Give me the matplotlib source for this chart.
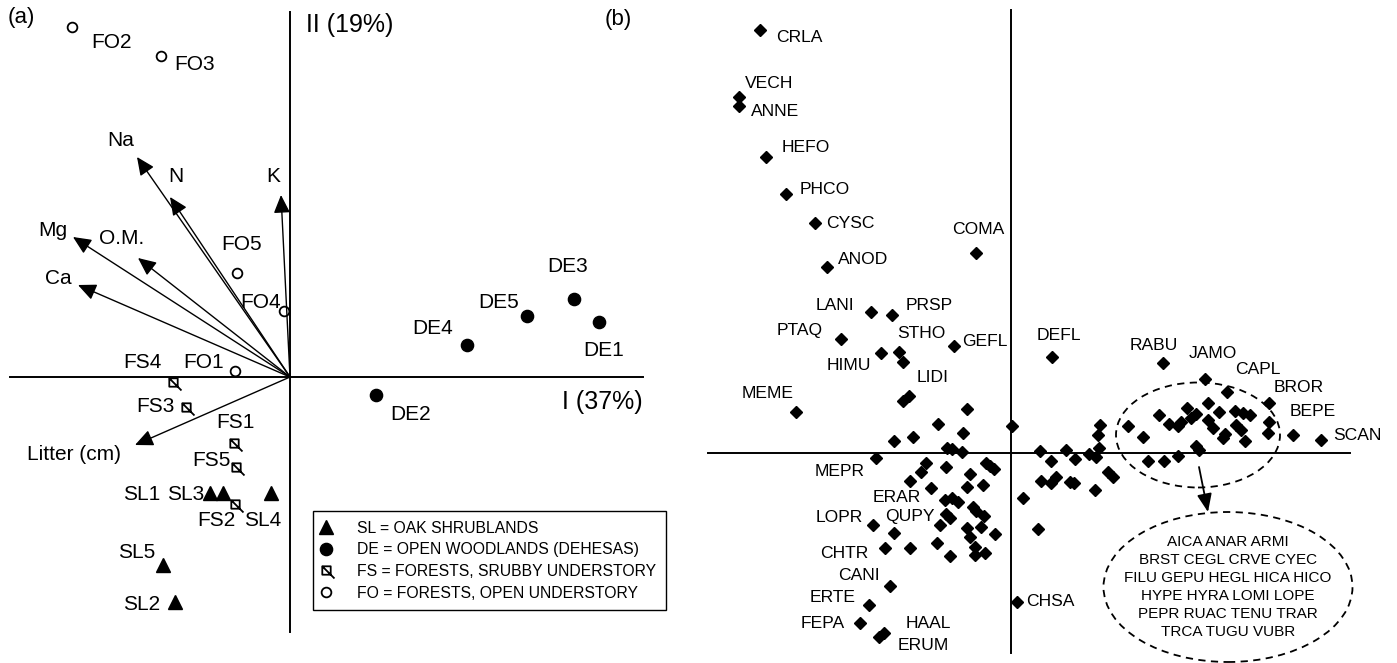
import numpy as np
import matplotlib
matplotlib.use("Agg")
import matplotlib.pyplot as plt
from matplotlib.patches import Ellipse
from matplotlib.path import Path
from matplotlib.lines import Line2D

plt.rcParams['font.family'] = ['Liberation Sans', 'DejaVu Sans']

# ============================================================
#  (a) site scores and soil vectors (PCA, axes I / II)
# ============================================================
sl_names = ["SL1", "SL2", "SL3", "SL4", "SL5"]
sl_x = [-0.80, -1.15, -0.67, -0.19, -1.27]
sl_y = [-1.16, -2.25, -1.16, -1.16, -1.88]

de_names = ["DE1", "DE2", "DE3", "DE4", "DE5"]
de_x = [3.09, 0.86, 2.84, 1.77, 2.37]
de_y = [0.55, -0.18, 0.78, 0.32, 0.61]

fs_names = ["FS1", "FS2", "FS3", "FS4", "FS5"]
fs_x = [-0.56, -0.55, -1.04, -1.17, -0.54]
fs_y = [-0.66, -1.27, -0.30, -0.05, -0.90]

fo_names = ["FO1", "FO2", "FO3", "FO4", "FO5"]
fo_x = [-0.55, -2.18, -1.29, -0.06, -0.53]
fo_y = [0.06, 3.50, 3.21, 0.66, 1.04]

vec_names = ["Na", "N", "K", "Mg", "O.M.", "Ca", "Litter (cm)"]
vec_x = [-1.53, -1.20, -0.09, -2.17, -1.52, -2.12, -1.55]
vec_y = [2.20, 1.80, 1.82, 1.40, 1.19, 0.92, -0.68]

legend_labels = ["SL = OAK SHRUBLANDS",
                 "DE = OPEN WOODLANDS (DEHESAS)",
                 "FS = FORESTS, SRUBBY UNDERSTORY",
                 "FO = FORESTS, OPEN UNDERSTORY"]

# ============================================================
#  (b) species scores
# ============================================================
sp_names = ["CRLA", "VECH", "ANNE", "HEFO", "PHCO", "CYSC", "COMA", "ANOD",
            "LANI", "PRSP", "PTAQ", "STHO", "GEFL", "HIMU", "LIDI", "MEME",
            "DEFL", "RABU", "JAMO", "CAPL", "BROR", "BEPE", "SCAN", "MEPR",
            "ERAR", "QUPY", "LOPR", "CHTR", "CANI", "ERTE", "FEPA", "HAAL",
            "ERUM", "CHSA"]
sp_x = [-2.51, -2.72, -2.72, -2.45, -2.25, -1.96, -0.35, -1.84,
        -1.40, -1.19, -1.70, -1.12, -0.57, -1.30, -1.02, -2.15,
        0.41, 1.52, 1.94, 2.16, 2.58, 2.82, 3.10, -1.35,
        -0.80, -0.65, -1.38, -1.26, -1.21, -1.42, -1.51, -1.27,
        -1.32, 0.06]
sp_y = [4.23, 3.56, 3.47, 2.96, 2.59, 2.30, 2.00, 1.86,
        1.41, 1.38, 1.14, 1.01, 1.07, 1.00, 0.57, 0.41,
        0.96, 0.90, 0.74, 0.61, 0.50, 0.18, 0.13, -0.05,
        -0.35, -0.61, -0.72, -0.95, -1.33, -1.52, -1.70, -1.80,
        -1.84, -1.49]

# unlabelled species
other_x = [-1.08, -1.08, -0.44, -0.73, -0.48, -1.17, -0.98, -0.64, -0.59,
           -0.49, -0.85, -0.90, -0.65, -0.25, -0.21, -0.17, -0.41, -1.01,
           -0.44, -0.28, -0.66, -0.59, -0.53, -0.38, -0.35, -0.61, -0.27,
           -0.71, -0.44, -0.30, -1.17, -0.16, -0.41, -1.01, -0.74, -0.36,
           -0.61, -0.36, -0.26,
           0.01, 0.12, 0.27, 0.29, 0.40, 0.55, 0.64, 0.78, 0.85, 0.88,
           0.87, 0.89, 0.30, 0.40, 0.45, 0.59, 0.63, 0.84, 0.97, 1.02,
           1.17, 1.32, 1.48, 1.58, 1.67, 1.70, 1.76, 1.80, 1.85, 1.97,
           1.97, 2.02, 2.08, 2.12, 2.14, 2.24, 2.32, 2.39, 2.25, 2.30,
           2.34, 2.58, 2.57, 1.85, 1.88, 1.67, 1.37, 1.53]
other_y = [0.91, 0.52, 0.44, 0.29, 0.20, 0.12, 0.16, 0.05, 0.04,
           0.01, -0.10, -0.19, -0.14, -0.10, -0.13, -0.16, -0.21, -0.28,
           -0.34, -0.32, -0.47, -0.45, -0.49, -0.54, -0.58, -0.65, -0.63,
           -0.72, -0.75, -0.74, -0.80, -0.81, -0.84, -0.95, -0.90, -0.94,
           -1.03, -1.02, -1.00,
           0.27, -0.45, -0.76, 0.02, -0.08, 0.03, -0.06, -0.01, -0.04, 0.05,
           0.18, 0.28, -0.28, -0.30, -0.24, -0.29, -0.30, -0.37, -0.19, -0.24,
           0.27, 0.16, 0.38, 0.29, 0.27, 0.31, 0.45, 0.35, 0.39, 0.50,
           0.33, 0.25, 0.41, 0.15, 0.19, 0.42, 0.40, 0.38, 0.28, 0.23,
           0.12, 0.31, 0.20, 0.07, 0.03, -0.03, -0.08, -0.08]

cluster_species = ["AICA ANAR ARMI",
                   "BRST CEGL CRVE CYEC",
                   "FILU GEPU HEGL HICA HICO",
                   "HYPE HYRA LOMI LOPE",
                   "PEPR RUAC TENU TRAR",
                   "TRCA TUGU VUBR"]

# label offsets in pixels (right, down) from the point
offs_a = {"FO1": (-31, -9), "FO2": (40, 16), "FO3": (34, 9), "FO4": (-23, -9),
          "FO5": (5, -28), "FS1": (1, -20), "FS2": (-19, 16), "FS3": (-31, -1),
          "FS4": (-31, -20), "FS5": (-25, -7), "SL1": (-68, 2), "SL2": (-33, 2),
          "SL3": (-37, 2), "SL4": (-8, 27), "SL5": (-26, -13), "DE1": (5, 29),
          "DE2": (35, 20), "DE3": (-6, -33), "DE4": (-34, -17), "DE5": (-28, -14),
          "Na": (-16, -17), "N": (6, -20), "K": (-8, -18), "Mg": (-20, -7),
          "O.M.": (-16, -20), "Ca": (-20, -7), "Litter (cm)": (-61, 10)}

offs_b = {"CRLA": (39, 7), "VECH": (30, -14), "ANNE": (36, 5), "HEFO": (40, -10),
          "PHCO": (39, -4), "CYSC": (35, 0), "COMA": (2, -24), "ANOD": (36, -8),
          "LANI": (-36, -6), "PRSP": (37, -9), "PTAQ": (-41, -8), "STHO": (22, -18),
          "GEFL": (31, -4), "HIMU": (-32, 12), "LIDI": (24, -19), "MEME": (-28, -19),
          "DEFL": (7, -22), "RABU": (-9, -17), "JAMO": (8, -26), "CAPL": (31, -23),
          "BROR": (30, -15), "BEPE": (20, -23), "SCAN": (36, -5), "MEPR": (-36, 13),
          "ERAR": (-34, 10), "QUPY": (-36, 3), "LOPR": (-34, -8), "CHTR": (-41, 5),
          "CANI": (-31, -10), "ERTE": (-36, -7), "FEPA": (-37, 0), "HAAL": (44, -10),
          "ERUM": (44, 9), "CHSA": (33, -1)}

# crossed-square marker for FS sites
fs_marker = Path([(-0.5, -0.5), (0.5, -0.5), (0.5, 0.5), (-0.5, 0.5), (-0.5, -0.5),
                  (-0.5, 0.5), (0.95, -0.95)],
                 [Path.MOVETO, Path.LINETO, Path.LINETO, Path.LINETO, Path.CLOSEPOLY,
                  Path.MOVETO, Path.LINETO])

W, H = 1397, 663
fig = plt.figure(figsize=(W / 100, H / 100), dpi=100)
axA = fig.add_axes([0, 0, 680 / W, 1])
axB = fig.add_axes([680 / W, 0, 717 / W, 1])
axA.set_xlim(-2.90, 3.90); axA.set_ylim(-2.86, 3.77)
axB.set_xlim(-3.31, 3.86); axB.set_ylim(-2.10, 4.53)
for ax in (axA, axB):
    ax.set_axis_off()


def put_labels(ax, names, xs, ys, offs, size):
    for n, x, y in zip(names, xs, ys):
        dx, dy = offs[n]
        ax.text(x + dx / 100, y - dy / 100, n, fontsize=size,
                ha="center", va="center", color="k")


# ---------------- panel (a) ----------------
axA.plot([-2.80, 3.53], [0, 0], color="k", lw=1.4)
axA.plot([0, 0], [-2.55, 3.65], color="k", lw=1.4)

for x, y in zip(vec_x, vec_y):
    axA.annotate("", xy=(x, y), xytext=(0, 0),
                 arrowprops=dict(arrowstyle="-|>,head_length=1.1,head_width=0.5",
                                 mutation_scale=10, lw=1.0, color="k",
                                 shrinkA=0, shrinkB=0))
put_labels(axA, vec_names, vec_x, vec_y, offs_a, 15)

axA.plot(sl_x, sl_y, ls="none", marker="^", ms=10, color="k", clip_on=False)
axA.plot(de_x, de_y, ls="none", marker="o", ms=8.8, color="k", clip_on=False)
axA.plot(fs_x, fs_y, ls="none", marker=fs_marker, ms=11.5, mfc="none", mec="k",
         mew=1.3, clip_on=False)
axA.plot(fo_x, fo_y, ls="none", marker="o", ms=7, mfc="white", mec="k",
         mew=1.3, clip_on=False)
for names, xs, ys in [(sl_names, sl_x, sl_y), (de_names, de_x, de_y),
                      (fs_names, fs_x, fs_y), (fo_names, fo_x, fo_y)]:
    put_labels(axA, names, xs, ys, offs_a, 15)

axA.text(0.16, 3.52, "II (19%)", fontsize=18, ha="left", va="center")
axA.text(3.53, -0.25, "I (37%)", fontsize=18, ha="right", va="center")
axA.text(-2.82, 3.60, "(a)", fontsize=16, ha="left", va="center")
fig.text(618 / W, 1 - 20 / H, "(b)", fontsize=16, ha="center", va="center")

handles = [Line2D([], [], ls="none", marker="^", ms=10, color="k"),
           Line2D([], [], ls="none", marker="o", ms=8.8, color="k"),
           Line2D([], [], ls="none", marker=fs_marker, ms=11.5, mfc="none",
                  mec="k", mew=1.3),
           Line2D([], [], ls="none", marker="o", ms=7, mfc="white", mec="k",
                  mew=1.3)]
leg = axA.legend(handles, legend_labels, loc="upper left",
                 bbox_to_anchor=(313 / 680, 1 - 511 / H), borderaxespad=0,
                 frameon=True, fancybox=False, edgecolor="k", framealpha=1,
                 fontsize=11.3, handlelength=0.4, handletextpad=1.8,
                 borderpad=0.62, labelspacing=0.42, numpoints=1)
leg.get_frame().set_linewidth(1.0)

# ---------------- panel (b) ----------------
axB.plot([-3.03, 3.39], [0, 0], color="k", lw=1.4)
axB.plot([0, 0], [-2.00, 4.43], color="k", lw=1.4)

axB.plot(other_x, other_y, ls="none", marker="D", ms=6.4, color="k", clip_on=False)
axB.plot(sp_x, sp_y, ls="none", marker="D", ms=6.4, color="k", clip_on=False)
put_labels(axB, sp_names, sp_x, sp_y, offs_b, 12.6)

axB.add_patch(Ellipse((1.87, 0.18), 1.64, 1.05, fill=False, ec="k", lw=1.3,
                      ls=(0, (4, 3))))
axB.add_patch(Ellipse((2.17, -1.34), 2.49, 1.50, fill=False, ec="k", lw=1.3,
                      ls=(0, (4, 3))))
axB.annotate("", xy=(1.97, -0.59), xytext=(1.88, -0.14),
             arrowprops=dict(arrowstyle="-|>,head_length=1.1,head_width=0.45",
                             mutation_scale=10, lw=1.3, color="k",
                             shrinkA=0, shrinkB=0))
axB.text(2.17, -1.34, "\n".join(cluster_species), fontsize=11,
         ha="center", va="center", linespacing=1.38, multialignment="center")

fig.savefig("out.png", dpi=100)
